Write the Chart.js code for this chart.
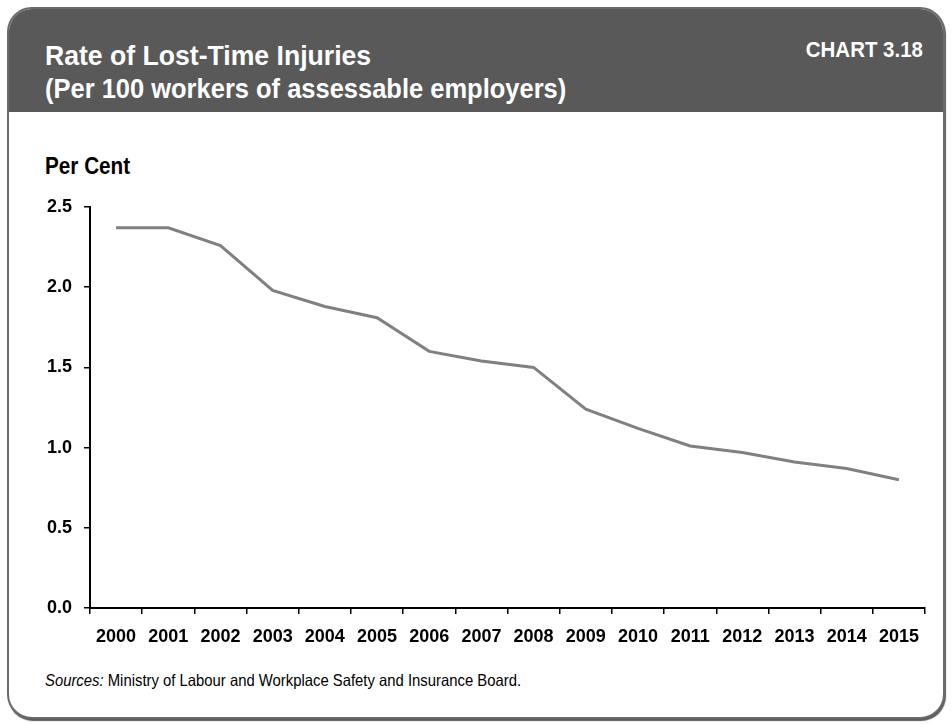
<!DOCTYPE html>
<html>
<head>
<meta charset="utf-8">
<script src="https://cdn.jsdelivr.net/npm/chart.js@4.4.0/dist/chart.umd.min.js"></script>
<style>
  html, body { margin: 0; padding: 0; background: #fff; }
  body { width: 952px; height: 725px; position: relative; overflow: hidden;
         font-family: "Liberation Sans", Arial, sans-serif; }
  #frame { position: absolute; left: 7px; top: 7px; width: 938px; height: 712px;
           box-sizing: border-box; border: 2px solid #6b6b6b; border-radius: 25px;
           overflow: hidden; box-shadow: 1px 2px 1px #5a5a5a; background: #fff; }
  #header { height: 103px; background: #595959; position: relative; color: #fff; font-weight: bold; }
  .narrow { display: block; transform: scaleX(0.9); transform-origin: left center; white-space: nowrap; }
  #title { position: absolute; left: 36px; top: 30px; font-size: 28px; line-height: 33px; }
  #chartno { position: absolute; right: 20px; top: 30px; font-size: 22px; line-height: 22px;
             transform: scaleX(0.93); transform-origin: right center; }
  #unit { position: absolute; left: 45px; top: 155px; font-size: 23px; line-height: 23px; font-weight: bold; color: #000; }
  #source { position: absolute; left: 45px; top: 672px; font-size: 16.5px; line-height: 16.5px; color: #000; }
  #myChart { position: absolute; left: 0; top: 0; }
</style>
</head>
<body>
<div id="frame">
  <div id="header">
    <div id="title">
      <span class="narrow" style="transform: scaleX(0.95)">Rate of Lost-Time Injuries</span>
      <span class="narrow" style="transform: scaleX(0.91)">(Per 100 workers of assessable employers)</span>
    </div>
    <div id="chartno">CHART 3.18</div>
  </div>
</div>
<div id="unit" class="narrow">Per Cent</div>
<div id="source" class="narrow"><i>Sources:</i> Ministry of Labour and Workplace Safety and Insurance Board.</div>
<canvas id="myChart" width="952" height="725"></canvas>
<script>
  const years = ['2000', '2001', '2002', '2003', '2004', '2005', '2006', '2007',
                 '2008', '2009', '2010', '2011', '2012', '2013', '2014', '2015']
  const injuryRate = [2.37, 2.37, 2.26, 1.98, 1.88, 1.81, 1.60, 1.54,
                      1.50, 1.24, 1.12, 1.01, 0.97, 0.91, 0.87, 0.80]

  const fontFamily = '"Liberation Sans", Arial, sans-serif'

  const ctx = document.getElementById('myChart')
  const myChart = new Chart(ctx, {
    type: 'line',
    data: {
      labels: years,
      datasets: [{
        data: injuryRate,
        borderColor: '#808080',
        borderWidth: 3,
        pointRadius: 0,
        tension: 0,
      }]
    },
    options: {
      responsive: false,
      animation: false,
      layout: {
        padding: { left: 30, right: 27, top: 207, bottom: 77 }
      },
      scales: {
        x: {
          offset: true,
          grid: {
            offset: true,
            drawOnChartArea: false,
            drawTicks: true,
            tickLength: 6,
            color: '#000',
            lineWidth: 1.5,
          },
          border: { display: true, color: '#000', width: 2 },
          ticks: {
            color: '#000',
            autoSkip: false,
            maxRotation: 0,
            padding: 12,
            font: { family: fontFamily, size: 18, weight: 'bold' },
          },
          afterFit: (scale) => { scale.height = 40 },
        },
        y: {
          min: 0,
          max: 2.5,
          grid: {
            drawOnChartArea: false,
            drawTicks: true,
            tickLength: 6,
            color: '#000',
            lineWidth: 1.5,
          },
          border: { display: true, color: '#000', width: 2 },
          ticks: {
            stepSize: 0.5,
            color: '#000',
            padding: 12,
            font: { family: fontFamily, size: 18, weight: 'bold' },
            callback: (v) => v.toFixed(1),
          },
          afterFit: (scale) => { scale.width = 60 },
        }
      },
      plugins: {
        legend: { display: false },
        tooltip: { enabled: false },
      }
    }
  })
</script>
</body>
</html>
